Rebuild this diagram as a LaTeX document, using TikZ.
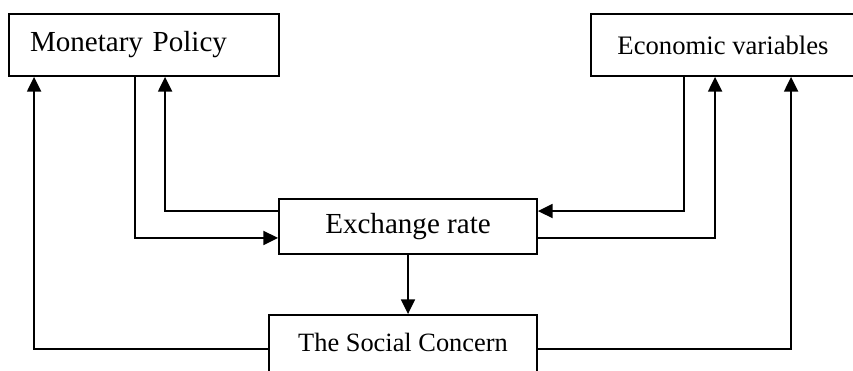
\documentclass[tikz,border=0pt]{standalone}
\usepackage{fontspec}
\setmainfont{Liberation Serif}
\usetikzlibrary{arrows.meta,positioning}

\begin{document}
\begin{tikzpicture}[
  x=0.75pt, y=-0.75pt,
  box/.style={draw, line width=1.4pt, inner sep=0pt, minimum height=46.5pt},
  flow/.style={-{Triangle[length=11pt,width=10.5pt]}, line width=1.3pt},
]

\useasboundingbox (0,0) rectangle (853,371);

%% Boxes
\node[box, minimum width=202.5pt, text width=171pt, inner xsep=15.75pt,
  align=left, font=\fontsize{21.8}{24}\selectfont] (mp) at (144,45)
  {Monetary Policy};
\node[box, minimum width=198pt, font=\fontsize{20}{24}\selectfont] (ev) at (723,45)
  {Economic variables};
\node[box, minimum width=193.5pt, minimum height=41.25pt,
  font=\fontsize{21.8}{24}\selectfont] (er) at (408,226.5)
  {Exchange rate};
\node[box, minimum width=201pt, minimum height=0pt, text height=27pt,
  text depth=24pt, font=\fontsize{19.8}{24}\selectfont] (sc) at (403,349)
  {The Social Concern};

%% ---- Connectors ----

% Monetary Policy <-> Exchange rate
\draw[flow] ([xshift=95.25pt]mp.south west) |- ([yshift=-8.6pt]er.west);
\draw[flow] ([yshift=11.6pt]er.west) -| ([xshift=117.75pt]mp.south west);

% Economic variables <-> Exchange rate
\draw[flow] ([xshift=70.5pt]ev.south west) |- ([yshift=11.6pt]er.east);
\draw[flow] ([yshift=-8.6pt]er.east) -| ([xshift=93.75pt]ev.south west);

% Exchange rate -> The Social Concern
\draw[flow] (er.south) -- (er.south |- sc.north);

% The Social Concern -> both top boxes
\draw[flow] (sc.west) -| ([xshift=19.5pt]mp.south west);
\draw[flow] (sc.east) -| ([xshift=150.75pt]ev.south west);

\end{tikzpicture}
\end{document}
